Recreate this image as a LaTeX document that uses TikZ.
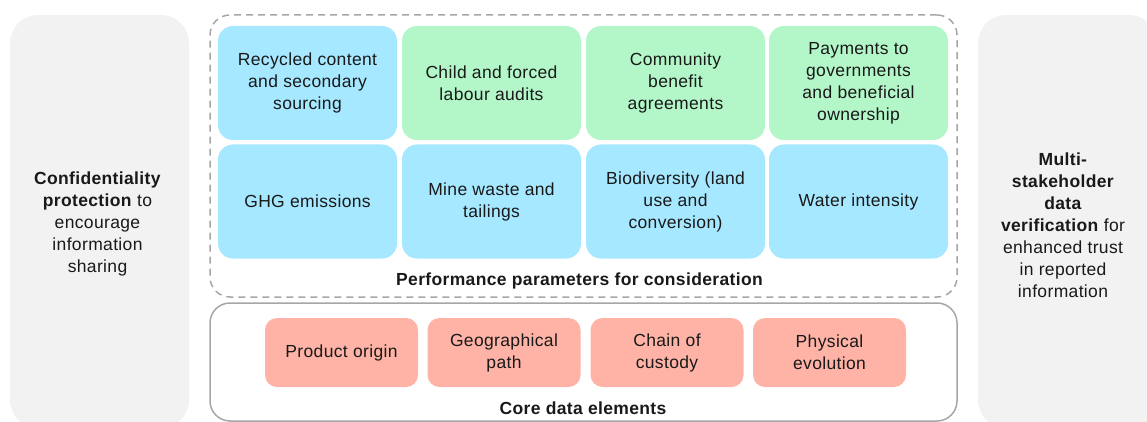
\documentclass[tikz,border=0pt]{standalone}
\usepackage{fontspec}
\setmainfont{Liberation Sans}[LetterSpace=2]

\definecolor{paramBlue}{HTML}{A6E8FF}
\definecolor{paramGreen}{HTML}{B3F7C9}
\definecolor{coreRed}{HTML}{FFB3A6}
\definecolor{sideGray}{HTML}{F2F2F2}
\definecolor{frameGray}{HTML}{A6A6A6}

\tikzset{
  txt/.style={font=\fontsize{17.5}{22}\selectfont, align=center, text=black!90},
  param/.style={txt, rounded corners=15pt, minimum width=179pt, minimum height=114pt, inner sep=0pt},
  element/.style={txt, fill=coreRed, rounded corners=12pt, minimum width=153pt, minimum height=69pt, inner sep=0pt},
  side/.style={fill=sideGray, rounded corners=28pt, minimum width=179pt, minimum height=413pt, inner sep=0pt},
  frame/.style={draw=frameGray, line width=1.5pt, rounded corners=20pt, minimum width=747pt, inner sep=0pt},
}

\begin{document}
\begin{tikzpicture}[x=1pt,y=-1pt]
  \useasboundingbox (0,0) rectangle (1147,422);
  \clip (0,0) rectangle (1147,422);

  % side panels
  \node[side] (privacy) at (99.5,221.5) {};
  \node[side] (verify) at (1067.5,221.5) {};
  \node[txt] (privacyText) at (97.5,224)
    {\textbf{Confidentiality}\\\textbf{protection} to\\encourage\\information\\sharing};
  \node[txt] (verifyText) at (1063,225)
    {\textbf{Multi-}\\\textbf{stakeholder}\\\textbf{data}\\\textbf{verification} for\\enhanced trust\\in reported\\information};

  % frames
  \node[frame, dash pattern=on 7pt off 5pt, minimum height=282pt] (perf) at (583.5,156) {};
  \node[frame, minimum height=118pt] (core) at (583.5,362) {};
  \node[txt, font=\fontsize{17.5}{22}\selectfont\bfseries] (perfLabel) at (579.5,281)
    {Performance parameters for consideration};
  \node[txt, font=\fontsize{17.5}{22}\selectfont\bfseries] (coreLabel) at (583,408)
    {Core data elements};

  % performance parameters
  \node[param, fill=paramBlue]  (recycled)  at (307.5,83) {Recycled content\\and secondary\\sourcing};
  \node[param, fill=paramGreen] (labour)    at (491.5,83) {Child and forced\\labour audits};
  \node[param, fill=paramGreen] (community) at (675.5,83) {Community\\benefit\\agreements};
  \node[param, fill=paramGreen] (payments)  at (858.5,83) {Payments to\\governments\\and beneficial\\ownership};
  \node[param, fill=paramBlue]  (ghg)       at (307.5,201.5) {GHG emissions};
  \node[param, fill=paramBlue]  (waste)     at (491.5,201.5) {Mine waste and\\tailings};
  \node[param, fill=paramBlue]  (biodiv)    at (675.5,201.5) {Biodiversity (land\\use and\\conversion)};
  \node[param, fill=paramBlue]  (water)     at (858.5,201.5) {Water intensity};

  % core data elements
  \node[element] (origin)    at (341.5,352.5) {Product origin};
  \node[element] (path)      at (504,352.5)   {Geographical\\path};
  \node[element] (custody)   at (667,352.5)   {Chain of\\custody};
  \node[element] (evolution) at (829.5,352.5) {Physical\\evolution};
\end{tikzpicture}
\end{document}
